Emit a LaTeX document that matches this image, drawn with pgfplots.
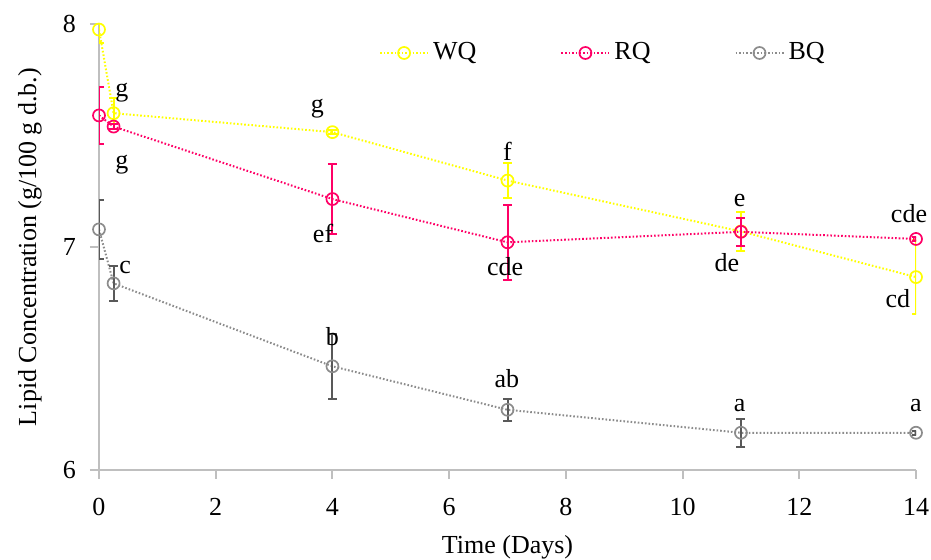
\documentclass[border=0pt]{standalone}
\usepackage{pgfplots}
\pgfplotsset{compat=1.18}
\usepackage{fontspec}
\setmainfont{Liberation Serif}
\definecolor{wq}{HTML}{FFFF00}
\definecolor{rq}{HTML}{FF0066}
\definecolor{bq}{HTML}{8C8C8C}
\definecolor{bqerr}{HTML}{595959}
\definecolor{axisgray}{HTML}{BFBFBF}
\begin{document}
\fontsize{13}{15.5}\selectfont
\begin{tikzpicture}
\begin{axis}[
  name=ax, scale only axis, width=408.5pt, height=223pt,
  xmin=0, xmax=14, ymin=6, ymax=8,
  clip mode=individual,
  xtick={0,2,...,14}, ytick={6,7,8},
  axis lines=left,
  axis line style={-, draw=axisgray, line width=1pt},
  tick align=outside, major tick length=4.5pt,
  tick style={axisgray, line width=1pt},
  /pgf/number format/assume math mode=true,
  font=\fontsize{13}{15.5}\selectfont,
  xticklabel style={yshift=-5pt},
  yticklabel style={xshift=-2.5pt},
  xlabel={Time (Days)},
  ylabel={Lipid Concentration (g/100 g d.b.)},
  xlabel style={at={(axis description cs:0.5,-0.1726)}, anchor=center},
  ylabel style={at={(axis description cs:-0.0845,0.5)}, anchor=center},
  legend style={at={(rel axis cs:0.335,0.935)}, anchor=west, draw=none, fill=none,
    legend columns=3, /tikz/every even column/.append style={column sep=40pt}},
  legend image code/.code={\draw[mark repeat=2, mark phase=2] plot coordinates {(0pt,0pt) (12pt,0pt) (24pt,0pt)};},
  every axis plot/.append style={line width=1pt, dash pattern=on 0.8pt off 1pt,
    mark=o, mark size=3pt, mark options={solid, line width=0.85pt}},
]
\addplot[wq, error bars/.cd, y dir=both, y explicit,
  error bar style={solid, line width=1pt, wq},
  error mark options={rotate=90, mark size=2.25pt, line width=1pt, wq}]
  coordinates {(0,7.975) +- (0,0.06) (0.25,7.60) +- (0,0.07) (4,7.515) +- (0,0.01)
    (7,7.298) +- (0,0.078) (11,7.07) +- (0,0.086) (14,6.865) +- (0,0.165)};
\addlegendentry{WQ}
\addplot[rq, error bars/.cd, y dir=both, y explicit,
  error bar style={solid, line width=1pt, rq},
  error mark options={rotate=90, mark size=2.25pt, line width=1pt, rq}]
  coordinates {(0,7.59) +- (0,0.128) (0.25,7.54) +- (0,0.01) (4,7.215) +- (0,0.155)
    (7,7.021) +- (0,0.167) (11,7.068) +- (0,0.062) (14,7.036) +- (0,0.01)};
\addlegendentry{RQ}
\addplot[bq, error bars/.cd, y dir=both, y explicit,
  error bar style={solid, line width=1pt, bqerr},
  error mark options={rotate=90, mark size=2.25pt, line width=1pt, bqerr}]
  coordinates {(0,7.079) +- (0,0.132) (0.25,6.837) +- (0,0.078) (4,6.465) +- (0,0.145)
    (7,6.27) +- (0,0.05) (11,6.167) +- (0,0.062) (14,6.167) +- (0,0.01)};
\addlegendentry{BQ}
\node at (axis cs:0.39,7.69) {g};
\node at (axis cs:0.39,7.37) {g};
\node at (axis cs:3.74,7.62) {g};
\node at (axis cs:7.0,7.43) {f};
\node at (axis cs:3.84,7.06) {ef};
\node at (axis cs:6.96,6.91) {cde};
\node at (axis cs:10.98,7.21) {e};
\node at (axis cs:10.76,6.93) {de};
\node at (axis cs:13.88,7.15) {cde};
\node at (axis cs:13.69,6.77) {cd};
\node at (axis cs:0.45,6.91) {c};
\node at (axis cs:4.0,6.60) {b};
\node at (axis cs:6.99,6.41) {ab};
\node at (axis cs:10.98,6.29) {a};
\node at (axis cs:14,6.29) {a};
\end{axis}
\pgfresetboundingbox
\path ([xshift=-49.5pt,yshift=-45pt]ax.south west) rectangle ([xshift=7.5pt,yshift=12pt]ax.north east);
\end{tikzpicture}
\end{document}
